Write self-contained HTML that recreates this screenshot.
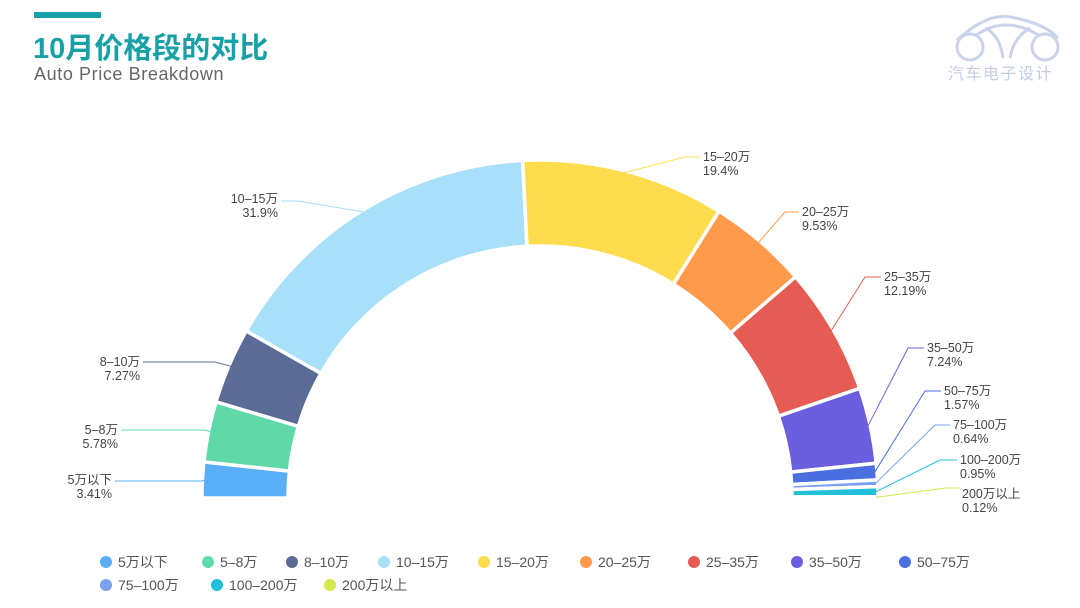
<!DOCTYPE html>
<html><head><meta charset="utf-8"><style>
body{margin:0;width:1080px;height:608px;background:#fff;overflow:hidden;font-family:"Liberation Sans","Noto Sans CJK SC",sans-serif;}
</style></head><body>
<svg id="s" width="1080" height="608" xmlns="http://www.w3.org/2000/svg" style="position:absolute;left:0;top:0">
<rect x="34" y="12" width="67" height="6" fill="#17a0a6"/>
<text x="33" y="58" font-size="29" font-weight="bold" fill="#17a0a6" font-family="Liberation Sans,Noto Sans CJK SC,sans-serif">10月价格段的对比</text>
<text x="34" y="80" font-size="18" fill="#666" letter-spacing="0.6" font-family="Liberation Sans,sans-serif">Auto Price Breakdown</text>
<g fill="none" stroke="#c9d3ea" stroke-width="3">
<path d="M957 40 Q990 10 1015 18 Q1045 24 1058 38"/>
<path d="M975 36 Q1005 14 1040 36"/>
<circle cx="970" cy="47" r="13"/><circle cx="1045" cy="47" r="13"/>
<path d="M985 28 Q1000 35 1003 58 M1030 28 Q1013 38 1010 58"/>
</g>
<text x="948" y="79" font-size="16" fill="#c2cce6" letter-spacing="1.5" font-family="Noto Sans CJK SC,sans-serif">汽车电子设计</text>
<g id="pie"></g>
<g id="leg" font-size="14" fill="#555"></g>
</svg>
<script>
var d=[["5万以下",3.41,"#5aaef5",[112,473,202,481],0],["5-8万",5.78,"#5fd9a8",[118,423,205,430],0],["8-10万",7.27,"#5a6c96",[140,355,215,362],0],["10-15万",31.9,"#a8dff9",[278,192,298,201],0],
["15-20万",19.4,"#ffdc4e",[703,150,685,157],1],["20-25万",9.53,"#ff9a4a",[802,205,785,212],1],["25-35万",12.19,"#e65c55",[884,270,865,277],1],["35-50万",7.24,"#6b5fe0",[927,341,908,348],1],
["50-75万",1.57,"#4a6fe0",[944,384,925,391],1],["75-100万",0.64,"#7aa0f0",[953,418,935,425],1],["100-200万",0.95,"#22c0d8",[960,453,940,460],1],["200万以上",0.12,"#d4e84a",[962,487,945,488],1]];
var cx=540,cy=498,R=338,r=252,g=document.getElementById("pie"),a=Math.PI,h="";
function P(rr,t){return (cx+rr*Math.cos(t)).toFixed(1)+" "+(cy-rr*Math.sin(t)).toFixed(1);}
d.forEach(function(e){var b=a-e[1]/100*Math.PI,m=(a+b)/2,l=e[3];
h+='<path d="M'+P(R,a)+' A'+R+' '+R+' 0 0 1 '+P(R,b)+' L'+P(r,b)+' A'+r+' '+r+' 0 0 0 '+P(r,a)+'Z" fill="'+e[2]+'" stroke="#fff" stroke-width="3.5"/>';
var s=P(R-2,m);
if(e[4]){h+='<polyline points="'+s+' '+l[2]+' '+l[3]+' '+(l[0]-3)+' '+l[3]+'" fill="none" stroke="'+e[2]+'" stroke-width="1"/>';
h+='<text x="'+l[0]+'" y="'+(l[1]+11)+'" font-size="12.5" fill="#444">'+e[0].replace("-","–")+'</text><text x="'+l[0]+'" y="'+(l[1]+25)+'" font-size="12.5" fill="#444">'+e[1]+'%</text>';}
else{h+='<polyline points="'+s+' '+l[2]+' '+l[3]+' '+(l[0]+3)+' '+l[3]+'" fill="none" stroke="'+e[2]+'" stroke-width="1"/>';
h+='<text x="'+l[0]+'" y="'+(l[1]+11)+'" text-anchor="end" font-size="12.5" fill="#444">'+e[0].replace("-","–")+'</text><text x="'+l[0]+'" y="'+(l[1]+25)+'" text-anchor="end" font-size="12.5" fill="#444">'+e[1]+'%</text>';}
a=b;});
g.innerHTML=h;
var pos=[[106,562],[208,562],[292,562],[384,562],[484,562],[586,562],[694,562],[797,562],[905,562],[106,585],[217,585],[330,585]],lh="";
d.forEach(function(e,i){var p=pos[i];lh+='<circle cx="'+p[0]+'" cy="'+p[1]+'" r="6" fill="'+e[2]+'"/><text x="'+(p[0]+12)+'" y="'+(p[1]+5)+'">'+e[0].replace("-","–")+'</text>';});
document.getElementById("leg").innerHTML=lh;
</script>
</body></html>
